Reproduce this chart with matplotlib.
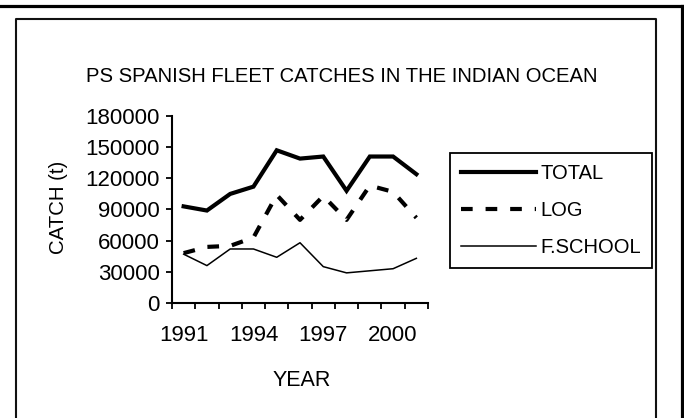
import matplotlib
matplotlib.use("Agg")
import matplotlib.pyplot as plt
from matplotlib.lines import Line2D
import numpy as np

plt.rcParams['font.family'] = ['Liberation Sans', 'DejaVu Sans']

years = ['1991', '1992', '1993', '1994', '1995', '1996', '1997', '1998', '1999', '2000', '2001']
total = [93000, 89000, 105000, 112000, 147000, 139000, 141000, 108000, 141000, 141000, 124000]
log = [48000, 54000, 55000, 63000, 104000, 80000, 103000, 80000, 113000, 107000, 82000]
fschool = [47000, 36000, 52000, 52000, 44000, 58000, 35000, 29000, 31000, 33000, 43000]
yticks = [0, 30000, 60000, 90000, 120000, 150000, 180000]

W, H = 684, 418
fig = plt.figure(figsize=(W / 100, H / 100), dpi=100)
ax = fig.add_axes([172 / W, 1 - 303 / H, (428 - 172) / W, (303 - 116) / H])

x = np.arange(len(years))
ax.plot(x, total, color='black', lw=3.0, solid_joinstyle='miter', label='TOTAL')
ax.plot(x, log, color='black', lw=3.0, linestyle=(0, (2.8, 3.1)), label='LOG')
ax.plot(x, fschool, color='black', lw=1.1, label='F.SCHOOL')

ax.set_xlim(-0.5, len(years) - 0.5)
ax.set_ylim(0, 180000)
ax.set_yticks(yticks)
ax.set_yticklabels([str(v) for v in yticks])
ax.set_xticks(np.arange(-0.5, len(years), 1.0))
ax.set_xticklabels([])
ax.set_xticks(x[::3], minor=True)
ax.set_xticklabels(years[::3], minor=True)
ax.tick_params(axis='x', which='major', direction='out', length=4, width=1.3)
ax.tick_params(axis='x', which='minor', length=0, pad=16, labelsize=16)
ax.tick_params(axis='y', direction='out', length=4, width=1.3, pad=5, labelsize=16)
for s in ['top', 'right']:
    ax.spines[s].set_visible(False)
for s in ['left', 'bottom']:
    ax.spines[s].set_linewidth(1.5)

fig.text(302 / W, 1 - 380 / H, 'YEAR', ha='center', va='center', fontsize=15.5)
fig.text(59 / W, 1 - 207 / H, 'CATCH (t)', ha='center', va='center', rotation=90, fontsize=14.7)
fig.text(342 / W, 1 - 76 / H, 'PS SPANISH FLEET CATCHES IN THE INDIAN OCEAN', ha='center', va='center', fontsize=14.6)

leg = ax.legend(loc='upper left', bbox_to_anchor=(450 / W, 1 - 153 / H), bbox_transform=fig.transFigure,
                fontsize=14.5, frameon=True, fancybox=False, edgecolor='black', framealpha=1,
                handlelength=3.7, handletextpad=0.25, labelspacing=0.9, borderpad=0.55,
                borderaxespad=0)
leg.get_frame().set_linewidth(1.3)

# chart frames
fig.add_artist(Line2D([0, 683 / W], [1 - 5.5 / H, 1 - 5.5 / H], transform=fig.transFigure, color='black', lw=2.3))
fig.add_artist(Line2D([682 / W, 682 / W], [0, 1 - 5.5 / H], transform=fig.transFigure, color='black', lw=2.3))
fig.add_artist(Line2D([16 / W, 16 / W, 656 / W, 656 / W], [0, 1 - 18.5 / H, 1 - 18.5 / H, 0],
                      transform=fig.transFigure, color='#111111', lw=1.5))

fig.savefig('out.png', dpi=100)
